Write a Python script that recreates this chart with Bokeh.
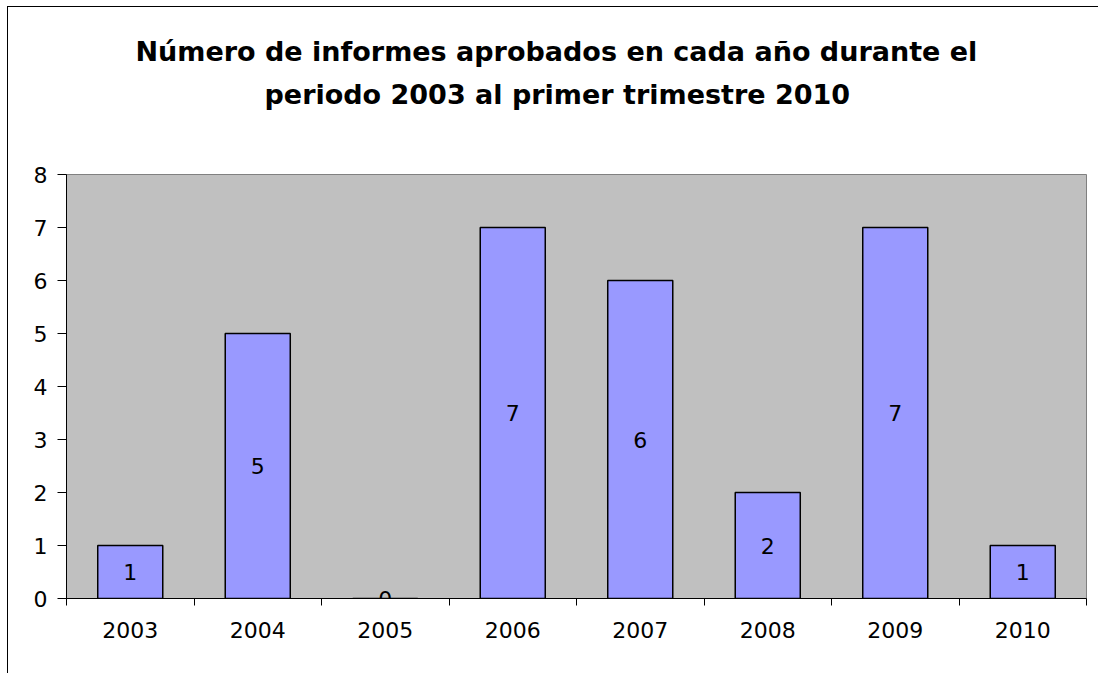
from bokeh.plotting import figure
from bokeh.models import FixedTicker, Title, ColumnDataSource, Range1d, LabelSet
from bokeh.core.properties import value
from bokeh.embed import file_html
from bokeh.resources import INLINE

years = ["2003", "2004", "2005", "2006", "2007", "2008", "2009", "2010"]
counts = [1, 5, 0, 7, 6, 2, 7, 1]
y_ticks = [0, 1, 2, 3, 4, 5, 6, 7, 8]
title_line1 = "Número de informes aprobados en cada año durante el"
title_line2 = "periodo 2003 al primer trimestre 2010"

FONT = "DejaVu Sans"
n = len(years)
centers = [i + 0.5 for i in range(n)]
src = ColumnDataSource(dict(
    x=centers, top=counts,
    mid=[c / 2 for c in counts],
    lab=[str(c) for c in counts],
))

p = figure(width=1091, height=667, x_range=Range1d(0, n), y_range=Range1d(0, y_ticks[-1]),
           output_backend="svg", toolbar_location=None,
           min_border_left=58, min_border_right=13, min_border_bottom=76, min_border_top=167)
p.background_fill_color = "#C0C0C0"
p.border_fill_color = "white"
p.outline_line_color = "#808080"
p.outline_line_width = 1
p.grid.visible = False

p.vbar(x="x", top="top", bottom=0, width=0.51, source=src,
       fill_color="#9999FF", line_color="black", line_width=1.5)

labels = LabelSet(x="x", y="mid", text="lab", source=src, text_align="center",
                  text_baseline="middle", text_font=value(FONT), text_font_size="22px",
                  text_color="black")
p.add_layout(labels)

# x axis
p.xaxis.ticker = FixedTicker(ticks=centers, minor_ticks=list(range(n + 1)))
p.xaxis.major_label_overrides = {c: y for c, y in zip(centers, years)}
p.xaxis.major_tick_out = 0
p.xaxis.major_tick_in = 0
p.xaxis.minor_tick_out = 7
p.xaxis.minor_tick_in = 0
p.xaxis.minor_tick_line_color = "black"
p.xaxis.major_label_standoff = 16
p.xaxis.major_label_text_font = FONT
p.xaxis.major_label_text_font_size = "22px"
p.xaxis.major_label_text_color = "black"
p.xaxis.axis_line_color = "black"

# y axis
p.yaxis.ticker = FixedTicker(ticks=y_ticks)
p.yaxis.major_tick_out = 9
p.yaxis.major_tick_in = 0
p.yaxis.minor_tick_line_color = None
p.yaxis.major_label_standoff = 10
p.yaxis.major_label_text_font = FONT
p.yaxis.major_label_text_font_size = "22px"
p.yaxis.major_label_text_color = "black"
p.yaxis.axis_line_color = "black"
p.yaxis.major_tick_line_color = "black"

t2 = Title(text=title_line2, align="left", offset=198, standoff=0, vertical_align="top",
           padding=(0, 0, 0, 63),
           text_font=FONT, text_font_size="27px", text_font_style="bold", text_color="black")
t1 = Title(text=title_line1, align="left", offset=69, standoff=24, vertical_align="bottom",
           text_font=FONT, text_font_size="27px", text_font_style="bold", text_color="black")
p.add_layout(t2, "above")
p.add_layout(t1, "above")

p.styles = {"margin-left": "7px", "margin-top": "6px",
            "border-left": "1px solid black", "border-top": "1px solid black"}

open("out.html", "w").write(file_html(p, INLINE))
